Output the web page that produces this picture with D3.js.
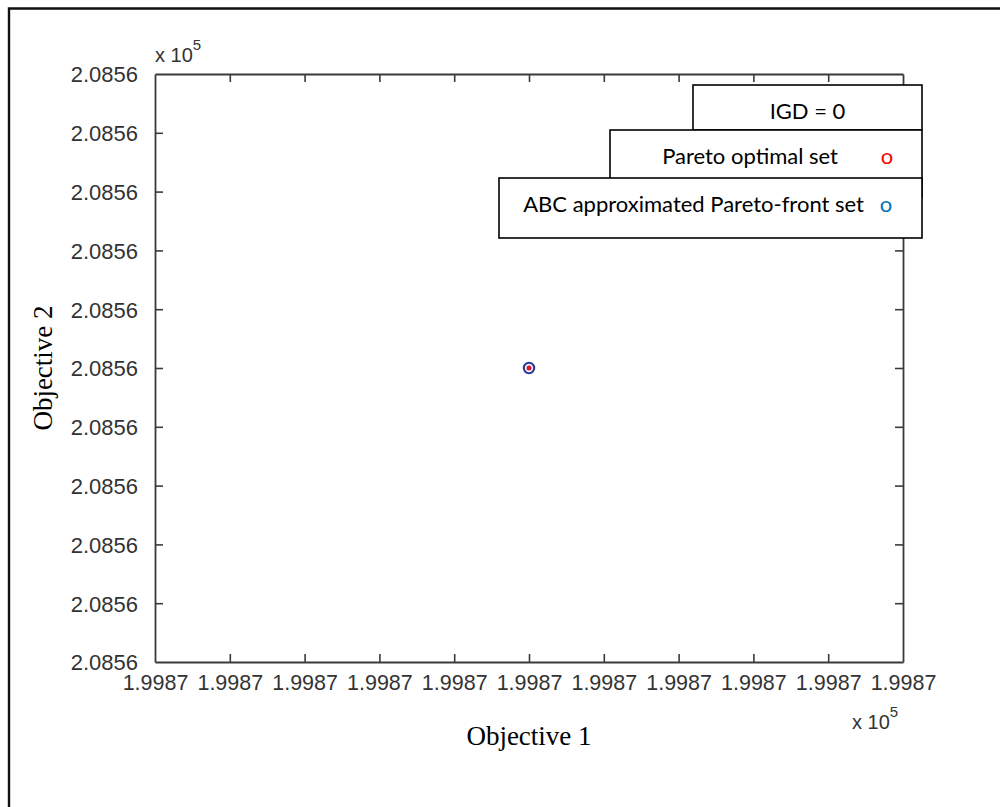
<!DOCTYPE html>
<html>
<head>
<meta charset="utf-8">
<script src="https://cdn.jsdelivr.net/npm/d3@7/dist/d3.min.js"></script>
<style>
  html, body { margin: 0; padding: 0; background: #fff; }
  svg { display: block; }
</style>
</head>
<body>
<svg id="chart" width="1000" height="807"></svg>
<script>
// Objective values (Objective 1, Objective 2)
const paretoOptimalSet = [[199870, 208560]];
const abcApproxSet = [[199870, 208560]];
const igdValue = 0;

// Axis domains and tick positions
const xDomain = [199869.5, 199870.5];
const yDomain = [208559.5, 208560.5];
const xTickValues = [199869.5, 199869.6, 199869.7, 199869.8, 199869.9, 199870.0,
                     199870.1, 199870.2, 199870.3, 199870.4, 199870.5];
const yTickValues = [208559.5, 208559.6, 208559.7, 208559.8, 208559.9, 208560.0,
                     208560.1, 208560.2, 208560.3, 208560.4, 208560.5];
const tickExponent = 5;
const fmt = v => (v / Math.pow(10, tickExponent)).toFixed(4);

const legendItems = [
  { label: "Pareto optimal set", color: "#ff0000" },
  { label: "ABC approximated Pareto-front set", color: "#0070c0" }
];

const svg = d3.select("#chart");
const plot = { left: 155, right: 903, top: 74, bottom: 662 };

const x = d3.scaleLinear().domain(xDomain).range([plot.left, plot.right]);
const y = d3.scaleLinear().domain(yDomain).range([plot.bottom, plot.top]);

// outer figure frame (open on the right and bottom)
svg.append("path")
  .attr("d", "M9,1000 L9,8.5 L1000,8.5")
  .attr("fill", "none").attr("stroke", "#111").attr("stroke-width", 2.4);

const axisColor = "#3a3a3a";
const tickFont = "'Liberation Sans', Arial, sans-serif";
const tl = 8;

// bottom axis with labels
const gx = svg.append("g").attr("transform", `translate(0,${plot.bottom})`)
  .call(d3.axisBottom(x).tickValues(xTickValues).tickFormat(fmt).tickSizeInner(-tl).tickSizeOuter(0).tickPadding(13));
// top axis, ticks only
const gxt = svg.append("g").attr("transform", `translate(0,${plot.top})`)
  .call(d3.axisTop(x).tickValues(xTickValues).tickFormat("").tickSizeInner(-tl).tickSizeOuter(0));
// left axis with labels
const gy = svg.append("g").attr("transform", `translate(${plot.left},0)`)
  .call(d3.axisLeft(y).tickValues(yTickValues).tickFormat(fmt).tickSizeInner(-tl).tickSizeOuter(0).tickPadding(17));
// right axis, ticks only
const gyr = svg.append("g").attr("transform", `translate(${plot.right},0)`)
  .call(d3.axisRight(y).tickValues(yTickValues).tickFormat("").tickSizeInner(-tl).tickSizeOuter(0));

[gx, gxt, gy, gyr].forEach(g => {
  g.selectAll(".domain").attr("stroke", axisColor).attr("stroke-width", 1.8);
  g.selectAll(".tick line").attr("stroke", axisColor).attr("stroke-width", 1.6);
  g.selectAll("text").attr("fill", "#333").style("font-family", tickFont).style("font-size", "22px");
});
gx.selectAll("text").style("font-size", "21.5px");
// drop the first/last ticks that sit on the frame corners
[gx, gxt].forEach(g => g.selectAll(".tick line").filter(d => d === xDomain[0] || d === xDomain[1]).remove());
[gy, gyr].forEach(g => g.selectAll(".tick line").filter(d => d === yDomain[0] || d === yDomain[1]).remove());
gy.selectAll("text").attr("dy", "0.36em");

// exponent multipliers
function exponentLabel(px, py) {
  const t = svg.append("text").attr("x", px).attr("y", py)
    .attr("fill", "#333").style("font-family", tickFont).style("font-size", "20px");
  t.append("tspan").text("x 10");
  t.append("tspan").attr("dy", -12).style("font-size", "15px").text(tickExponent);
}
exponentLabel(plot.left, 62);
exponentLabel(852, 729);

// axis titles
const titleFont = "'Liberation Serif', 'Times New Roman', serif";
svg.append("text")
  .attr("x", (plot.left + plot.right) / 2).attr("y", 745)
  .attr("text-anchor", "middle")
  .style("font-family", titleFont).style("font-size", "27px").attr("fill", "#000")
  .text("Objective 1");
svg.append("text")
  .attr("transform", `translate(52,${(plot.top + plot.bottom) / 2}) rotate(-90)`)
  .attr("text-anchor", "middle")
  .style("font-family", titleFont).style("font-size", "27px").attr("fill", "#000")
  .text("Objective  2");

// data markers
svg.append("g").selectAll("circle.abc").data(abcApproxSet).join("circle")
  .attr("class", "abc")
  .attr("cx", d => x(d[0])).attr("cy", d => y(d[1])).attr("r", 5.2)
  .attr("fill", "#f4f0f8").attr("stroke", "#2c3a9c").attr("stroke-width", 2.1);
svg.append("g").selectAll("circle.pareto").data(paretoOptimalSet).join("circle")
  .attr("class", "pareto")
  .attr("cx", d => x(d[0])).attr("cy", d => y(d[1])).attr("r", 2.5)
  .attr("fill", "#e0142c");

// legend boxes drawn over the plot
const legendFont = "Lato, 'Open Sans', sans-serif";
const legendSize = "22px";
const boxes = [
  { x0: 693, y0: 85, x1: 922, y1: 130 },
  { x0: 610, y0: 130, x1: 922, y1: 197 },
  { x0: 499, y0: 178, x1: 922, y1: 238 }
];
const lg = svg.append("g");
boxes.forEach(b => {
  lg.append("rect").attr("x", b.x0).attr("y", b.y0)
    .attr("width", b.x1 - b.x0).attr("height", b.y1 - b.y0)
    .attr("fill", "#fff").attr("stroke", "#000").attr("stroke-width", 1.6);
});
lg.append("text").attr("x", 807.5).attr("y", 119).attr("text-anchor", "middle")
  .style("font-family", legendFont).style("font-size", legendSize).attr("fill", "#000")
  .text(`IGD = ${igdValue}`);

const entryPos = [
  { tx: 838, ty: 164, mx: 887 },
  { tx: 864, ty: 212, mx: 886 }
];
legendItems.forEach((item, i) => {
  const p = entryPos[i];
  lg.append("text").attr("x", p.tx).attr("y", p.ty).attr("text-anchor", "end")
    .style("font-family", legendFont).style("font-size", legendSize).attr("fill", "#000")
    .text(item.label);
  lg.append("text").attr("x", p.mx).attr("y", p.ty).attr("text-anchor", "middle")
    .style("font-family", legendFont).style("font-size", legendSize).attr("fill", item.color)
    .text("o");
});
</script>
</body>
</html>
